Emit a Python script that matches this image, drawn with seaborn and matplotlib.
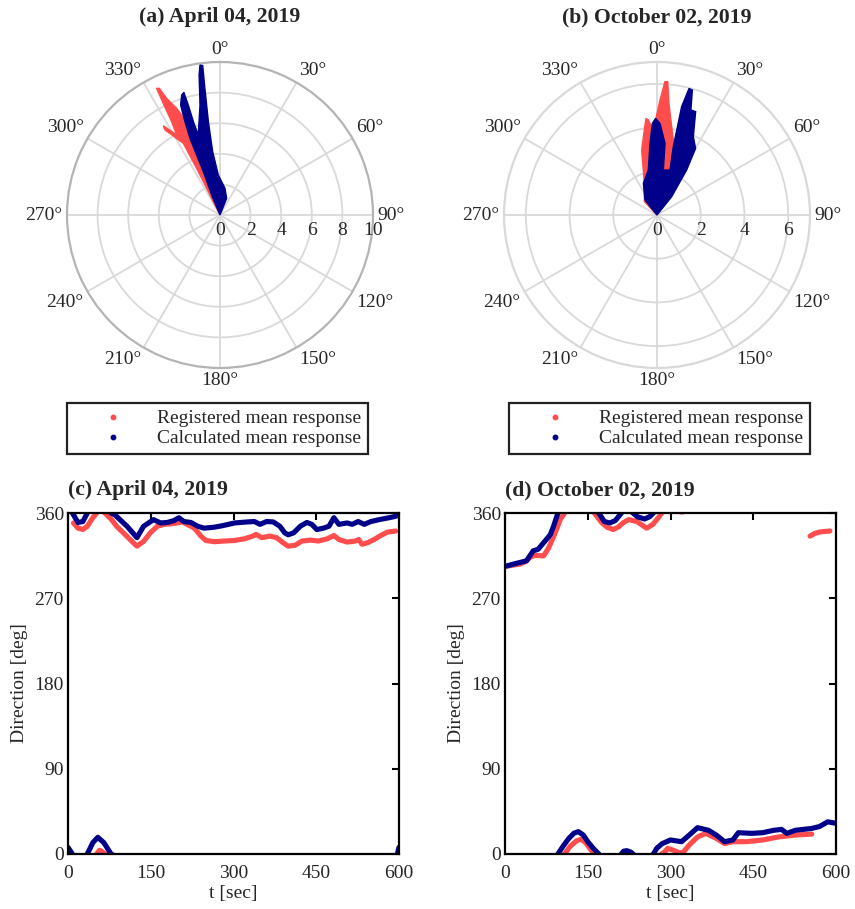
import numpy as np
import pandas as pd
import seaborn as sns
import matplotlib.pyplot as plt
from matplotlib.lines import Line2D

# ---------------- data ----------------
# Polar outlines (direction in degrees, negative = west of north; magnitude)
a_reg_theta = [-27, -26.6, -27.1, -32.9, -32.4, -28.4, -27.4, -27.0, -26.6, -25.6, -24.6, -22.1, -19.7, -19.9, -22.6, -22]
a_reg_r = [0, 3.17, 5.26, 6.62, 6.91, 5.95, 6.87, 8.07, 9.26, 9.18, 8.38, 7.52, 6.48, 4.17, 1.42, 0]
a_calc_theta = [-20, -22.6, -21.0, -21.3, -21.4, -20.6, -19.7, -17.7, -16.4, -16.1, -15.9, -15.2, -10.3,
                -8.5, -7.6, -6.6, -6.8, -7.1, -6.6, -2.4, 10.6, 21.8, 20]
a_calc_r = [0, 1.42, 3.03, 4.21, 5.38, 6.51, 7.64, 8.23, 8.36, 7.48, 6.34, 5.42, 7.31,
            9.25, 9.89, 9.83, 8.34, 6.15, 4.17, 2.62, 1.77, 1.17, 0]
b_reg_theta = [-45, -43.5, -21.8, -13.3, -8.5, -6.5, -5.2, -2.5, 1.5, 3.4, 4.6, 6.1, 9.4, 14.2, 16.5, 21.8, 20]
b_reg_r = [0, 0.84, 1.56, 3.05, 3.93, 4.45, 4.36, 3.89, 5.26, 6.11, 6.12, 5.14, 4.10, 3.22, 1.83, 0.57, 0]
b_calc_theta = [-40, -38.7, -23.3, -10.9, -5.6, -2.9, -0.8, 1.9, 6.4, 8.0, 16.1, 13.4, 12.8, 14.2,
                15.8, 17.9, 20.5, 24.9, 30.1, 33.4, 38.7, 40]
b_calc_r = [0, 0.88, 1.58, 2.10, 3.29, 4.20, 4.42, 4.19, 3.30, 2.08, 2.14, 3.21, 5.08, 5.97,
            5.94, 5.05, 5.05, 3.95, 3.52, 2.46, 1.07, 0]

# Time series (direction, unwrapped degrees)
c_t_calc = [0, 8, 18, 27, 35, 45, 54, 65, 78, 85, 107, 125, 137, 155, 168, 180, 192, 201, 210, 223,
            235, 247, 265, 280, 302, 326, 338, 348, 360, 372, 384, 393, 399, 409, 421, 433, 442, 451,
            463, 473, 482, 491, 506, 515, 526, 537, 549, 564, 582, 594, 597, 600]
c_v_calc = [367, 360, 350, 351, 360, 372, 377.6, 372, 360, 358, 346, 334, 346, 353, 349.5, 350, 352, 355,
            351, 350, 346, 344, 345, 346.6, 349.5, 350.6, 351, 348, 351, 350.6, 346, 339, 337, 339, 346,
            350, 348, 342.5, 344, 346, 355, 348, 349.5, 348, 351, 348, 351, 353, 355, 356.5, 360, 367]
c_t_reg = [10, 18, 27, 35, 45, 52, 57, 62, 67, 79, 88, 104, 116, 125, 137, 149, 162, 174, 186, 198, 207,
           216, 229, 241, 250, 265, 283, 302, 320, 335, 341, 351, 366, 378, 390, 399, 412, 424, 439, 454,
           470, 482, 491, 506, 521, 527, 533, 543, 555, 567, 579, 594]
c_v_reg = [349.5, 344, 342.6, 346, 355, 360, 364, 362.5, 360, 353, 346, 337, 330, 325, 330, 339, 346, 348,
           348.5, 349.5, 350.6, 348, 344, 335.6, 331, 329.7, 330.4, 331, 332.8, 335.6, 337.4, 334, 335.6,
           334, 328.6, 325, 326, 330.4, 331.4, 330.4, 332.8, 336.3, 332, 329.3, 330.4, 332, 327, 328.6,
           332, 336.3, 339.8, 341]

d_t_calc = [0, 15, 25, 39, 51, 60, 72, 82, 88, 96, 105, 115, 125, 133, 142, 150, 160, 170, 180, 190, 200,
            211, 215, 221, 228, 232, 240, 253, 262, 269, 275, 285, 300, 320, 334, 349, 369, 383, 398, 413,
            423, 447, 467, 487, 501, 511, 526, 556, 570, 585, 600]
d_v_calc = [303.6, 306, 307.5, 309.5, 320, 321.7, 330, 337, 346, 360, 368, 376, 382, 383.6, 380, 373, 366,
            360, 351, 349.5, 352, 360, 363, 363.5, 362, 360, 356, 353.7, 356, 360, 366, 371, 374.8, 373,
            380, 387.8, 385, 380, 373, 374.8, 382.5, 381.8, 382.5, 385, 386, 381.8, 385, 387, 389, 394, 392.4]
d_t_reg = [5, 15, 27, 38, 45, 54, 62, 70, 79, 91, 100, 108, 118, 130, 138, 146, 155, 162, 175, 185, 196,
           205, 215, 224, 239, 249, 257, 268, 278, 284, 290, 295, 305, 315, 322, 334, 349, 364, 383, 398,
           413, 437, 467, 496, 526, 556]
d_v_reg = [304, 305, 306, 309, 313, 315.4, 315, 314.7, 323, 339, 353, 360, 368, 374, 375.5, 372, 365, 360,
           350, 345, 342.6, 345, 350, 353, 351, 347, 344, 348, 355, 360, 362.5, 366, 364, 361.5, 361,
           369.5, 378, 381.8, 376.5, 371, 373, 373, 374.8, 378, 380, 381]
d_t_reg_tail = [553, 562, 571, 580, 589]
d_v_reg_tail = [335.6, 338.5, 340, 340.5, 341]

titles = ['(a) April 04, 2019', '(b) October 02, 2019', '(c) April 04, 2019', '(d) October 02, 2019']
legend_labels = ['Registered mean response', 'Calculated mean response']
theta_ticks = list(range(0, 360, 30))
x_ticks = [0, 150, 300, 450, 600]
y_ticks = [0, 90, 180, 270, 360]

# ---------------- style ----------------
sns.set_theme(style='white')
plt.rcParams['font.family'] = ['Liberation Serif', 'DejaVu Serif']
RED = '#FF4D4D'
BLUE = '#00008B'
TXT = '#262626'
W, H = 855, 909

fig = plt.figure(figsize=(W / 100, H / 100), dpi=100)


def polar_panel(left_px, rmax, rticks, outer_color, reg, calc):
    ax = fig.add_axes([left_px / W, 1 - 368 / H, 306 / W, 306 / H], projection='polar')
    ax.set_theta_zero_location('N')
    ax.set_theta_direction(-1)
    ax.set_axisbelow(True)
    ax.fill(np.deg2rad(reg[0]), reg[1], color=RED, lw=1.0, ec=RED, zorder=3)
    ax.fill(np.deg2rad(calc[0]), calc[1], color=BLUE, lw=1.0, ec=BLUE, zorder=4)
    ax.set_ylim(0, rmax)
    ax.set_xticks(np.deg2rad(theta_ticks))
    ax.set_xticklabels([])
    ax.set_yticks([r for r in rticks if 0 < r < rmax])
    ax.set_yticklabels([])
    ax.grid(True, color='#d9d9d9', lw=1.3)
    ax.spines['polar'].set_color(outer_color)
    ax.spines['polar'].set_linewidth(1.6)
    gap = 3.2
    for d in theta_ticks:
        s, c = np.sin(np.deg2rad(d)), np.cos(np.deg2rad(d))
        ha = 'left' if s > 0.1 else ('right' if s < -0.1 else 'center')
        va = 'bottom' if c > 0.1 else ('top' if c < -0.1 else 'center')
        ax.annotate(f'{d}°', xy=(np.deg2rad(d), rmax), xytext=(gap * s, gap * c),
                    textcoords='offset points', ha=ha, va=va, fontsize=14, color=TXT,
                    annotation_clip=False)
    for r in rticks:
        ax.annotate(f'{r}', xy=(np.pi / 2, r), xytext=(0, -5), textcoords='offset points',
                    ha='center', va='top', fontsize=14, color=TXT, annotation_clip=False)
    return ax


axa = polar_panel(67, 10, [0, 2, 4, 6, 8, 10], '#b4b4b4', (a_reg_theta, a_reg_r), (a_calc_theta, a_calc_r))
axb = polar_panel(504, 7, [0, 2, 4, 6], '#d9d9d9', (b_reg_theta, b_reg_r), (b_calc_theta, b_calc_r))

fig.text(220 / W, 1 - 17 / H, titles[0], ha='center', va='center', fontsize=15.7, weight='bold')
fig.text(657 / W, 1 - 17 / H, titles[1], ha='center', va='center', fontsize=15.7, weight='bold')

handles = [Line2D([], [], ls='', marker='o', ms=3.2, color=RED),
           Line2D([], [], ls='', marker='o', ms=3.2, color=BLUE)]
for lx in (67, 509):
    leg = fig.legend(handles, legend_labels, loc='upper left',
                     bbox_to_anchor=(lx / W, 1 - 403 / H), fontsize=14, frameon=True,
                     fancybox=False, framealpha=1, edgecolor='#222222', borderpad=0.35,
                     handlelength=4.0, handletextpad=0.3, labelspacing=0.12, borderaxespad=0)
    leg.get_frame().set_linewidth(1.6)


def series_panel(left_px, series, title):
    ax = fig.add_axes([left_px / W, 1 - 854 / H, 331 / W, 341 / H])
    for t, v, col in series:
        v = np.asarray(v, dtype=float)
        for shift in (0, -360):
            sns.lineplot(x=t, y=v + shift, ax=ax, color=col, linewidth=3.7, sort=False,
                         estimator=None, legend=False, solid_capstyle='round')
    ax.set_xlim(0, 600)
    ax.set_ylim(0, 360)
    ax.set_xticks(x_ticks)
    ax.set_yticks(y_ticks)
    ax.tick_params(direction='in', length=5, width=1.5, top=True, right=True, labelsize=14,
                   labelcolor=TXT, color='black')
    ax.tick_params(axis='y', pad=3)
    ax.tick_params(axis='x', pad=8)
    for s in ax.spines.values():
        s.set_color('black')
        s.set_linewidth(1.6)
    ax.set_xlabel('t [sec]', fontsize=14, color=TXT, labelpad=2)
    ax.set_ylabel('Direction [deg]', fontsize=14, color=TXT, labelpad=5)
    fig.text(left_px / W, 1 - 490 / H, title, ha='left', va='center', fontsize=15.7, weight='bold')
    return ax


series_panel(68, [(c_t_reg, c_v_reg, RED), (c_t_calc, c_v_calc, BLUE)], titles[2])
series_panel(505, [(d_t_reg, d_v_reg, RED), (d_t_reg_tail, d_v_reg_tail, RED),
                   (d_t_calc, d_v_calc, BLUE)], titles[3])

fig.savefig('out.png', dpi=100)
